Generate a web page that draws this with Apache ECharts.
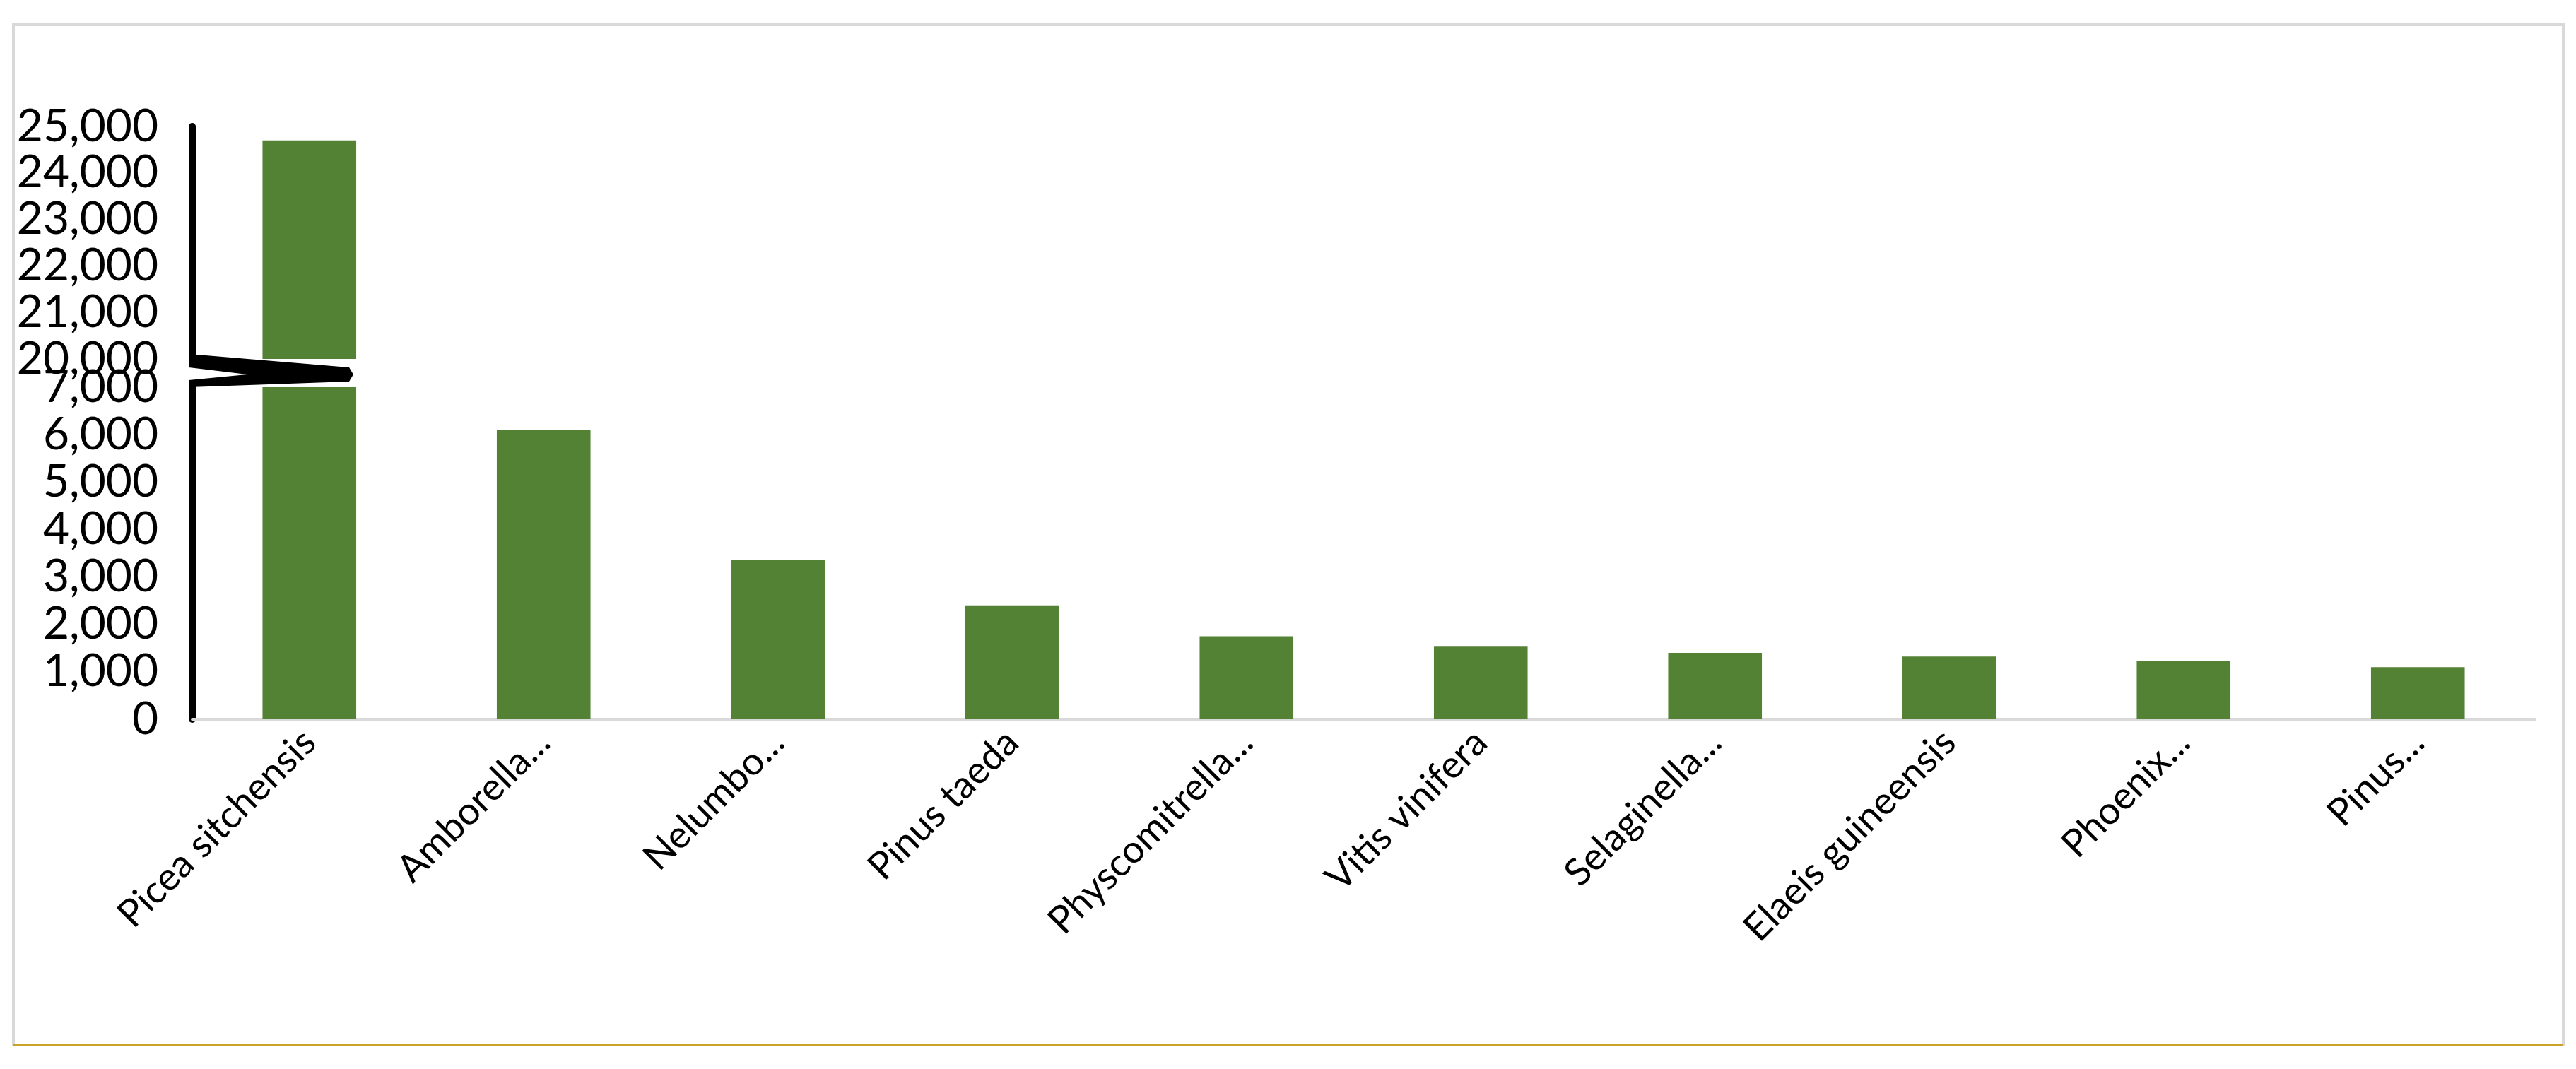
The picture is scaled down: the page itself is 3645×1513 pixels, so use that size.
<!DOCTYPE html>
<html>
<head>
<meta charset="utf-8">
<style>html,body{margin:0;padding:0;background:#fff}#container{width:3645px;height:1513px}</style>
<script src="https://cdn.jsdelivr.net/npm/echarts@6/dist/echarts.min.js"></script>
</head>
<body>
<div id="container"></div>
<script type="text/javascript">
    var categories = ['Picea sitchensis', 'Amborella...', 'Nelumbo...', 'Pinus taeda', 'Physcomitrella...',
        'Vitis vinifera', 'Selaginella...', 'Elaeis guineensis', 'Phoenix...', 'Pinus...'];
    var counts = [24700, 6100, 3350, 2400, 1750, 1530, 1400, 1320, 1220, 1100];
    var topTicks = [20000, 25000];   // upper axis segment
    var bottomTicks = [0, 7000];     // lower axis segment

    var topData = counts.map(function (v) { return v > topTicks[0] ? v : null; });

    var myChart = echarts.init(document.getElementById('container'));
    var font = 'Lato';
    var option = {
        animation: false,
        graphic: [
            { type: 'rect', shape: { x: 19, y: 35, width: 3608, height: 1444 },
              style: { fill: 'none', stroke: '#d9d9d9', lineWidth: 4 } },
            { type: 'line', shape: { x1: 19, y1: 1479, x2: 3627, y2: 1479 },
              style: { stroke: '#c9a227', lineWidth: 4 } },
            // axis break marker
            { type: 'polygon', z: 100, shape: { points: [[267, 501], [494, 520], [500, 530], [494, 540], [267, 548], [267, 538], [350, 530], [267, 520]] },
              style: { fill: '#000' } }
        ],
        grid: [
            { left: 272, right: 58, top: 179, height: 329 },
            { left: 272, right: 58, top: 548, bottom: 495 }
        ],
        xAxis: [
            { gridIndex: 0, type: 'category', data: categories, show: false },
            { gridIndex: 1, type: 'category', data: categories,
              axisLine: { lineStyle: { color: '#d9d9d9', width: 4 } },
              axisTick: { show: false },
              axisLabel: { interval: 0, rotate: 45, fontSize: 54, fontFamily: font, color: '#000', margin: 24 } }
        ],
        yAxis: [
            { gridIndex: 0, type: 'value', min: topTicks[0], max: topTicks[1], interval: 1000,
              splitLine: { show: false }, axisTick: { show: false },
              axisLine: { show: true, lineStyle: { color: '#000', width: 10 } },
              axisLabel: { fontSize: 64, fontFamily: font, color: '#000', margin: 48,
                  formatter: function (v) { return v.toLocaleString('en-US'); } } },
            { gridIndex: 1, type: 'value', min: bottomTicks[0], max: bottomTicks[1], interval: 1000,
              splitLine: { show: false }, axisTick: { show: false },
              axisLine: { show: true, lineStyle: { color: '#000', width: 10 } },
              axisLabel: { fontSize: 64, fontFamily: font, color: '#000', margin: 48,
                  formatter: function (v) { return v.toLocaleString('en-US'); } } }
        ],
        series: [
            { type: 'bar', xAxisIndex: 0, yAxisIndex: 0, data: topData, barWidth: '40%',
              itemStyle: { color: '#548235' } },
            { type: 'bar', xAxisIndex: 1, yAxisIndex: 1, data: counts, barWidth: '40%', clip: true,
              itemStyle: { color: '#548235' } }
        ]
    };
    myChart.setOption(option);
</script>
</body>
</html>
